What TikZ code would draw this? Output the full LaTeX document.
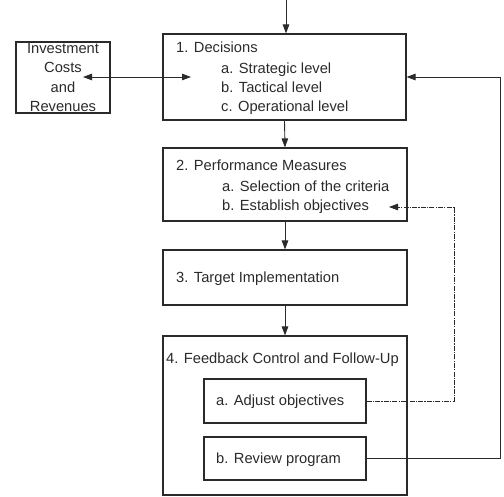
\documentclass[tikz,border=0pt]{standalone}
\usepackage{fontspec}
\setmainfont{Liberation Sans}
\usetikzlibrary{arrows.meta}
\definecolor{ink}{HTML}{2A2A2A}
\tikzset{
  box/.style={draw=ink, line width=1.1pt, minimum width=#1, inner sep=0pt},
  lbl/.style={anchor=base west, inner sep=0pt, text=ink, font=\fontsize{14.7}{19.5}\selectfont},
  flow/.style={draw=ink, line width=0.9pt, -{Triangle[length=9pt,width=6.5pt]}},
  dashflow/.style={draw=ink, line width=0.8pt, dash pattern=on 5pt off 1.2pt on 1.2pt off 1.2pt, -{Triangle[length=9pt,width=6.5pt]}}
}
\begin{document}
\begin{tikzpicture}[x=1pt, y=-1pt]
\useasboundingbox (0,0) rectangle (504,497);

% main boxes
\node[box=243pt, minimum height=86pt] (dec) at (284.5,77) {};
\node[box=94pt, minimum height=71pt, align=center, text=ink,
      font=\fontsize{14.7}{19.5}\selectfont] (inv) at (63,77.5)
      {Investment\\Costs\\and\\Revenues};
\node[box=244pt, minimum height=73pt] (perf) at (285,184.5) {};
\node[box=244pt, minimum height=55pt] (targ) at (285,277.5) {};
\node[box=244pt, minimum height=159pt] (fb) at (285,415.5) {};
\node[box=162pt, minimum height=44pt] (adj) at (285,401) {};
\node[box=162pt, minimum height=43pt] (rev) at (285,458.5) {};

% texts
\node[lbl] (t1)  at (176,53)  {1. Decisions};
\node[lbl] (t1a) at (221,74)  {a. Strategic level};
\node[lbl] (t1b) at (221,93)  {b. Tactical level};
\node[lbl] (t1c) at (221,112) {c. Operational level};
\node[lbl] (t2)  at (176,171) {2. Performance Measures};
\node[lbl] (t2a) at (222,192) {a. Selection of the criteria};
\node[lbl] (t2b) at (222,211) {b. Establish objectives};
\node[lbl] (t3)  at (176,283) {3. Target Implementation};
\node[lbl] (t4)  at (166,363) {4. Feedback Control and Follow-Up};
\node[lbl] (t4a) at (216,406) {a. Adjust objectives};
\node[lbl] (t4b) at (216,464) {b. Review program};

% helper points
\coordinate (top) at (286,0);
\coordinate (invtip) at (83,77);
\coordinate (dectip) at (191,77);
\coordinate (esttip) at (389,207);
\coordinate (dashcorner) at (454,401);
\coordinate (revcorner) at (500,458.5);

% main flow
\draw[flow] (top) -- (top |- dec.north);
\draw[flow] (dec.south) -- (perf.north);
\draw[flow] (perf.south) -- (targ.north);
\draw[flow] (targ.south) -- (fb.north);

% investment link
\draw[flow, {Triangle[length=9pt,width=6.5pt]}-{Triangle[length=9pt,width=6.5pt]}] (invtip) -- (dectip);

% feedback loops
\draw[dashflow] (adj.east) -- (dashcorner) -- (dashcorner |- esttip) -- (esttip);
\draw[flow] (rev.east) -- (revcorner) -- (revcorner |- dec.east) -- (dec.east);
\end{tikzpicture}
\end{document}
